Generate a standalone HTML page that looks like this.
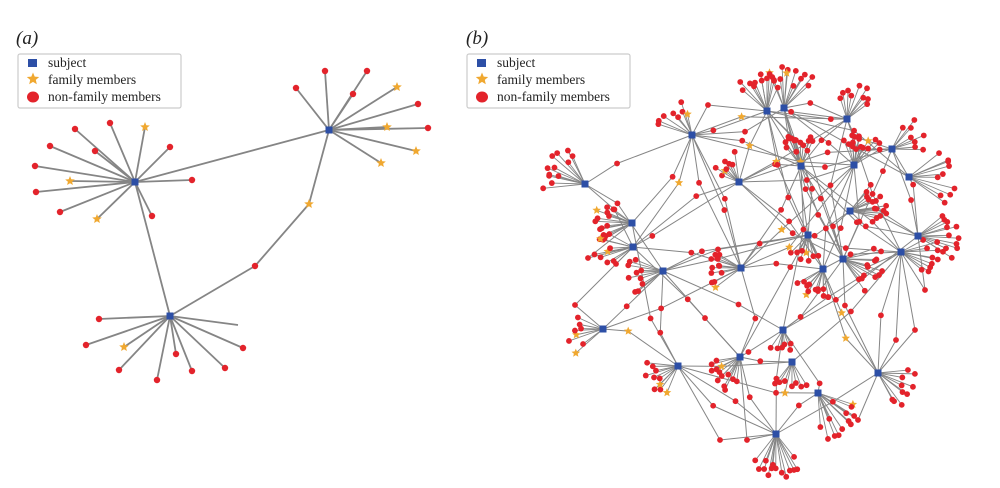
<!DOCTYPE html>
<html><head><meta charset="utf-8">
<style>
html,body{margin:0;padding:0;background:#fff;width:1000px;height:488px;overflow:hidden}
svg{display:block}
text{font-family:"Liberation Serif",serif;fill:#222}
</style></head><body>
<svg id="s" width="1000" height="488" viewBox="0 0 1000 488" xmlns="http://www.w3.org/2000/svg">
<g id="E" stroke="#858585" stroke-width="1.4" fill="none"></g>
<g id="N"></g>
<text x="16" y="44" font-size="19" font-style="italic">(a)</text>
<text x="466" y="44" font-size="19" font-style="italic">(b)</text>
<g id="L1"></g>
</svg>
<script>
var NS="http://www.w3.org/2000/svg",E=document.getElementById('E'),N=document.getElementById('N'),L=document.getElementById('L1');
function el(p,t,a){var e=document.createElementNS(NS,t);for(var k in a)e.setAttribute(k,a[k]);p.appendChild(e);return e;}
function line(a,b,c,d,w){el(E,'line',{x1:a,y1:b,x2:c,y2:d,'stroke-width':w||1.4});}
function dot(x,y,r){el(N,'circle',{cx:x,cy:y,r:r||3.2,fill:'#e3232b'});}
function sq(x,y,s){s=s||7;el(N,'rect',{x:x-s/2,y:y-s/2,width:s,height:s,fill:'#2d4fa6'});}
function star(x,y,r,p){p=p||N;r=r||4.5;var pts=[];for(var i=0;i<10;i++){var a=-Math.PI/2+i*Math.PI/5,rr=i%2?r*0.45:r;pts.push((x+rr*Math.cos(a)).toFixed(1)+','+(y+rr*Math.sin(a)).toFixed(1));}el(p,'polygon',{points:pts.join(' '),fill:'#f0a830'});}
function legend(x,y){el(L,'rect',{x:x,y:y,width:163,height:54,fill:'#fff',stroke:'#ccc','stroke-width':1.2,rx:2});
el(L,'rect',{x:x+10,y:y+5,width:9,height:8,fill:'#2d4fa6'});star(x+15,y+25,6.5,L);el(L,'ellipse',{cx:x+15,cy:y+43,rx:6,ry:5.5,fill:'#e3232b'});
var t=[['subject',13],['family members',30],['non-family members',47]];t.forEach(function(q){var e=el(L,'text',{x:x+30,y:y+q[1],'font-size':13.5});e.textContent=q[0];});}
legend(18,54);legend(467,54);
var A=[135,182],B=[329,130],C=[170,316];
var la=[[75,129],[110,123],[145,127,1],[50,146],[95,151],[170,147],[35,166],[70,181,1],[192,180],[36,192],[60,212],[97,219,1],[152,216]];
var lb=[[296,88],[325,71],[367,71],[353,94],[397,87,1],[418,104],[387,127,1],[428,128],[416,151,1],[381,163,1]];
var lc=[[99,319],[86,345],[124,347,1],[243,348],[176,354],[119,370],[192,371],[225,368],[157,380]];
function fan(h,ls){ls.forEach(function(l){line(h[0],h[1],l[0],l[1],1.8);});}
fan(A,la);fan(B,lb);fan(C,lc);line(C[0],C[1],238,325,1.8);
line(A[0],A[1],B[0],B[1],1.8);line(A[0],A[1],C[0],C[1],1.8);
line(B[0],B[1],309,204,1.8);line(309,204,255,266,1.8);line(255,266,C[0],C[1],1.8);
function nodes(ls){ls.forEach(function(l){l[2]?star(l[0],l[1],5):dot(l[0],l[1]);});}
nodes(la);nodes(lb);nodes(lc);star(309,204,5);dot(255,266);
sq(A[0],A[1]);sq(B[0],B[1]);sq(C[0],C[1]);
var seed=11;function R(){seed=(seed*16807)%2147483647;return (seed-1)/2147483646;}
var H=[[767,111,-100,40,12],[784,108,-80,40,12],[847,119,-70,35,9],[692,135,-130,35,8],[801,166,-95,32,10],[854,165,-75,32,12],[892,149,-30,35,8],[909,177,0,45,10],[739,182,-130,30,8],[585,184,-150,42,12],[632,223,180,38,14],[633,247,170,38,10],[850,211,-20,35,12],[808,235,100,25,8],[918,236,0,40,12],[901,252,10,40,10],[843,259,20,40,12],[823,269,115,30,12],[741,268,180,32,12],[663,271,170,35,10],[603,329,170,35,8],[783,330,90,22,6],[740,357,135,35,12],[792,362,95,32,8],[678,366,150,35,10],[878,373,30,40,10],[818,393,50,45,12],[776,434,90,42,14]];
var leaves=[];
H.forEach(function(h){var n=h[4];for(var i=0;i<n;i++){var a=(h[2]+((i+0.5)/n-0.5)*75+(R()-0.5)*10)*Math.PI/180,d=h[3]*(0.6+R()*0.45);var x=h[0]+d*Math.cos(a),y=h[1]+d*Math.sin(a);line(h[0],h[1],x,y,0.9);leaves.push([x,y,R()<0.07]);}});
var mids=[];
for(var i=0;i<400;i++){var a=R()*H.length|0,b=R()*H.length|0;if(a==b)continue;var h1=H[a],h2=H[b];var dx=h2[0]-h1[0],dy=h2[1]-h1[1];var dd=dx*dx+dy*dy;if(dd>170*170||dd<40*40)continue;if(mids.length>100)break;
var t=0.3+R()*0.4,x=h1[0]+dx*t+(R()-0.5)*30,y=h1[1]+dy*t+(R()-0.5)*30;line(h1[0],h1[1],x,y,1);line(x,y,h2[0],h2[1],1);mids.push([x,y,R()<0.12]);}
[[575,305],[588,258],[708,105],[720,440],[925,290],[915,330],[896,340],[858,420],[747,440]].forEach(function(p){mids.push([p[0],p[1],false]);var best=H.slice().sort(function(u,v){return Math.hypot(u[0]-p[0],u[1]-p[1])-Math.hypot(v[0]-p[0],v[1]-p[1]);});line(p[0],p[1],best[0][0],best[0][1],1);line(p[0],p[1],best[1][0],best[1][1],1);});
leaves.concat(mids).forEach(function(l){l[2]?star(l[0],l[1],4.5):dot(l[0],l[1],2.9);});
H.forEach(function(h){sq(h[0],h[1],7);});
</script>
</body></html>
